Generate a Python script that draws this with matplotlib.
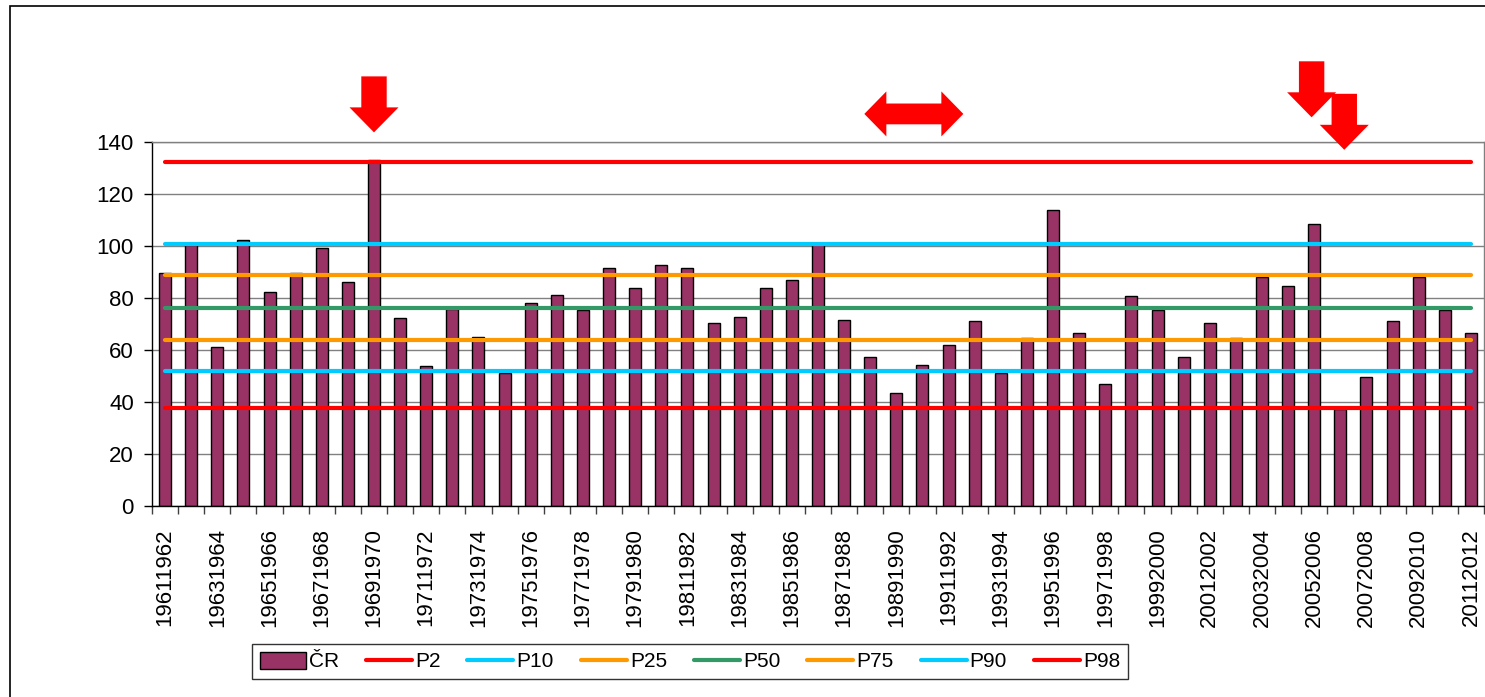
import numpy as np
import matplotlib
matplotlib.use("Agg")
import matplotlib.pyplot as plt
import matplotlib.transforms as mtransforms
from matplotlib.patches import Polygon, Rectangle, Patch
from matplotlib.lines import Line2D

plt.rcParams['font.family'] = ['Liberation Sans', 'DejaVu Sans']

# ---------------- data ----------------
seasons = [f"{y}{y + 1}" for y in range(1961, 2012)]
cr_values = [89.5, 100.4, 61.2, 102.3, 82.4, 89.8, 99.1, 86.3, 133.2, 72.2,
             53.8, 75.6, 65.1, 51.0, 78.0, 81.3, 75.4, 91.4, 83.7, 92.7,
             91.4, 70.4, 72.8, 83.7, 86.9, 100.6, 71.7, 57.5, 43.5, 54.3,
             62.0, 71.0, 51.0, 64.6, 113.9, 66.5, 46.8, 80.6, 75.4, 57.5,
             70.4, 64.7, 88.2, 84.5, 108.6, 37.5, 49.8, 71.0, 88.2, 75.4,
             66.5]
percentile_names = ["P2", "P10", "P25", "P50", "P75", "P90", "P98"]
percentile_values = [37.8, 51.9, 63.9, 76.0, 88.9, 100.9, 132.3]
percentile_colors = ["#FF0000", "#00CCFF", "#FF9900", "#339966",
                     "#FF9900", "#00CCFF", "#FF0000"]
y_ticks = [0, 20, 40, 60, 80, 100, 120, 140]
# arrow annotations: (x position in categories, tip height in data units)
down_arrows = [(8.0, 143.7), (43.9, 149.5), (45.15, 137.0)]
double_arrow = (28.67, 150.8)

bar_color = "#993366"

# ---------------- figure ----------------
W, H = 1485, 697
fig = plt.figure(figsize=(W / 100, H / 100), dpi=100)
fig.patch.set_facecolor("white")

# outer chart frame
frame = Rectangle((10, 6), 1490, 700, transform=None, fill=False,
                  edgecolor="black", linewidth=1.2)
frame_y = H - 6 - 700
frame.set_xy((10, frame_y))
fig.add_artist(frame)

ax_left, ax_right, ax_top, ax_bottom = 152, 1484, 142, 506
ax = fig.add_axes([ax_left / W, 1 - ax_bottom / H,
                   (ax_right - ax_left) / W, (ax_bottom - ax_top) / H])

n = len(cr_values)
x = np.arange(n)
ax.bar(x, cr_values, width=0.46, color=bar_color, edgecolor="black",
       linewidth=1.0, zorder=2, label="ČR")

for name, val, col in zip(percentile_names, percentile_values, percentile_colors):
    ax.plot([x[0], x[-1]], [val, val], color=col, linewidth=3.0,
            solid_capstyle="round", zorder=3, label=name)

ax.set_xlim(-0.5, n - 0.5)
ax.set_ylim(0, 140)
ax.set_yticks(y_ticks)
ax.yaxis.grid(True, color="#808080", linewidth=1.0)
ax.set_axisbelow(True)

ax.set_xticks(x[::2])
ax.set_xticklabels(seasons[::2], rotation=90, fontsize=16)
ax.set_xticks(np.arange(-0.5, n, 1.0), minor=True)
ax.tick_params(axis="x", which="major", length=0, pad=16)
ax.tick_params(axis="x", which="minor", length=6, width=1.0, color="#404040",
               direction="out")
ax.tick_params(axis="y", which="major", length=6, width=1.0, labelsize=16,
               pad=7, direction="out")

for side in ["top", "right"]:
    ax.spines[side].set_color("#808080")
    ax.spines[side].set_linewidth(1.0)
for side in ["left", "bottom"]:
    ax.spines[side].set_color("black")
    ax.spines[side].set_linewidth(1.0)

# ---------------- arrows (pixel-sized shapes anchored in data coords) ----------------
def down_arrow_shape(shaft_hw=12.7, head_hw=24.5, head_len=25, total=56):
    return [(-shaft_hw, total), (shaft_hw, total), (shaft_hw, head_len),
            (head_hw, head_len), (0, 0), (-head_hw, head_len),
            (-shaft_hw, head_len)]


def double_arrow_shape(half_len=49.5, head_len=22, shaft_hh=10.4, head_hh=22.5):
    a = half_len - head_len
    return [(-half_len, 0), (-a, head_hh), (-a, shaft_hh), (a, shaft_hh),
            (a, head_hh), (half_len, 0), (a, -head_hh), (a, -shaft_hh),
            (-a, -shaft_hh), (-a, -head_hh)]


def anchored(xd, yd):
    return mtransforms.IdentityTransform() + mtransforms.ScaledTranslation(
        xd, yd, ax.transData)


for xd, yd in down_arrows:
    p = Polygon(down_arrow_shape(), closed=True, facecolor="#FF0000",
                edgecolor="none", transform=anchored(xd, yd), zorder=5)
    fig.add_artist(p)

p = Polygon(double_arrow_shape(), closed=True, facecolor="#FF0000",
            edgecolor="none", transform=anchored(*double_arrow), zorder=5)
fig.add_artist(p)

# ---------------- legend ----------------
handles = [Patch(facecolor=bar_color, edgecolor="black", linewidth=1.0)]
handles += [Line2D([0], [0], color=c, linewidth=3.0, solid_capstyle="round")
            for c in percentile_colors]
labels = ["ČR"] + percentile_names
leg = fig.legend(handles, labels, loc="center",
                 bbox_to_anchor=(690 / W, 1 - 661.5 / H), ncol=8,
                 fontsize=15, frameon=True, fancybox=False, shadow=False,
                 handlelength=2.2, handletextpad=0.15, columnspacing=1.3,
                 borderpad=0.35, handleheight=0.9)
leg.get_frame().set_edgecolor("black")
leg.get_frame().set_linewidth(1.0)

fig.savefig("out.png", dpi=100, facecolor="white")
